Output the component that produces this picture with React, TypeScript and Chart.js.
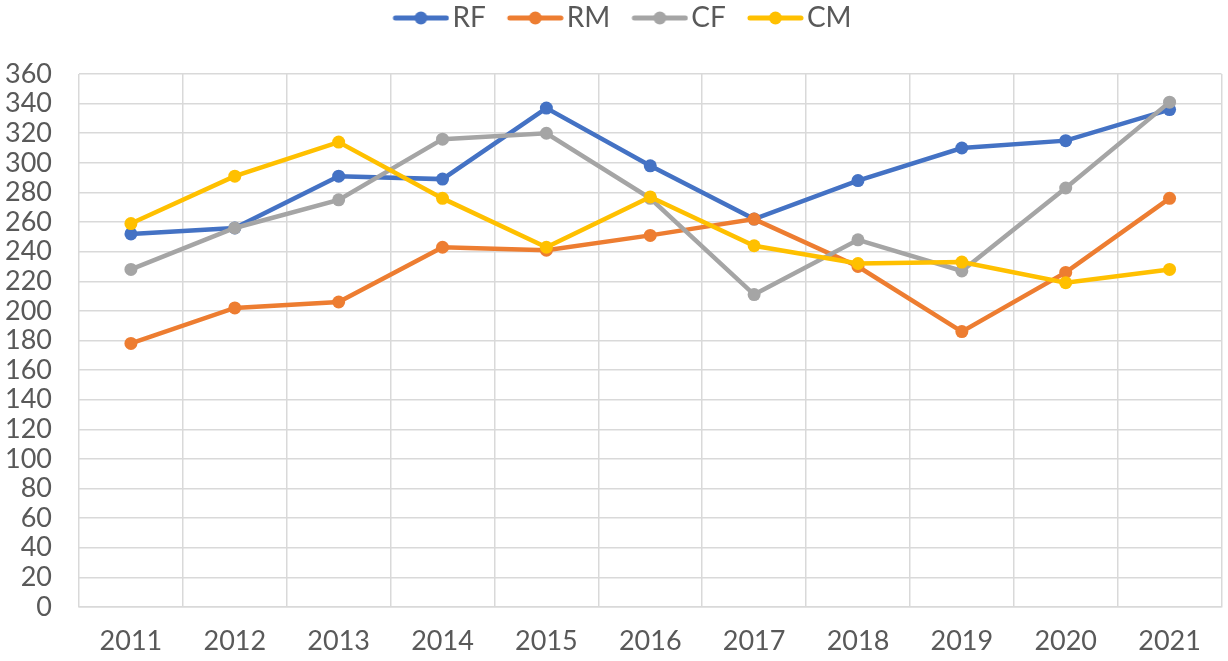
import React, { useEffect, useRef } from "react";
import { Chart, registerables } from "chart.js";

Chart.register(...registerables);

const years = ["2011", "2012", "2013", "2014", "2015", "2016", "2017", "2018", "2019", "2020", "2021"];
const rfValues = [252, 256, 291, 289, 337, 298, 262, 288, 310, 315, 336];
const rmValues = [178, 202, 206, 243, 241, 251, 262, 230, 186, 226, 276];
const cfValues = [228, 256, 275, 316, 320, 276, 211, 248, 227, 283, 341];
const cmValues = [259, 291, 314, 276, 243, 277, 244, 232, 233, 219, 228];
const seriesNames = ["RF", "RM", "CF", "CM"];
const seriesColors = ["#4472C4", "#ED7D31", "#A5A5A5", "#FFC000"];

const FONT = "Lato, 'DejaVu Sans', sans-serif";
const TICK_SIZE = 27;
const LEGEND_SIZE = 28;

// legend marker: transparent lead-in, then a 57px line with a dot
function legendMarker(color: string): HTMLCanvasElement {
  const c = document.createElement("canvas");
  c.width = 85;
  c.height = 16;
  const ctx = c.getContext("2d")!;
  ctx.strokeStyle = color;
  ctx.lineWidth = 5;
  ctx.lineCap = "round";
  ctx.beginPath();
  ctx.moveTo(31, 8);
  ctx.lineTo(82, 8);
  ctx.stroke();
  ctx.fillStyle = color;
  ctx.beginPath();
  ctx.arc(56.5, 8, 6.5, 0, Math.PI * 2);
  ctx.fill();
  return c;
}

const legendSpacer = {
  id: "legendSpacer",
  beforeInit(chart: any) {
    const legend = chart.legend;
    if (!legend) return;
    const origFit = legend.fit;
    legend.fit = function () {
      origFit.call(this);
      this.height = 74;
    };
  },
};

export default function App() {
  const ref = useRef<HTMLCanvasElement | null>(null);
  useEffect(() => {
    document.body.style.margin = "0";
    const values = [rfValues, rmValues, cfValues, cmValues];
    const chart = new Chart(ref.current!, {
      type: "line",
      data: {
        labels: years,
        datasets: seriesNames.map((name, i) => ({
          label: name,
          data: values[i],
          borderColor: seriesColors[i],
          backgroundColor: seriesColors[i],
          borderWidth: 4.5,
          pointRadius: 6.5,
          pointHoverRadius: 6.5,
          pointBorderWidth: 0,
          pointStyle: "circle",
          tension: 0,
          order: 4 - i,
        })),
      },
      plugins: [legendSpacer],
      options: {
        animation: false,
        responsive: false,
        maintainAspectRatio: false,
        layout: { padding: { left: 0, right: 1, top: 0, bottom: 0 } },
        plugins: {
          tooltip: { enabled: false },
          legend: {
            position: "top",
            labels: {
              usePointStyle: true,
              pointStyleWidth: 63,
              padding: 4,
              color: "#595959",
              font: { family: FONT, size: LEGEND_SIZE },
              generateLabels: () =>
                seriesNames.map((name, i) => ({
                  text: name,
                  fillStyle: seriesColors[i],
                  strokeStyle: seriesColors[i],
                  lineWidth: 0,
                  pointStyle: legendMarker(seriesColors[i]),
                  datasetIndex: i,
                  hidden: false,
                  fontColor: "#595959",
                })),
            },
          },
        },
        scales: {
          x: {
            offset: true,
            afterFit: (scale: any) => {
              scale.height = 54;
            },
            grid: { offset: true, color: "#d9d9d9", lineWidth: 1.5, drawTicks: false },
            border: { color: "#d9d9d9", width: 1.5 },
            ticks: { color: "#595959", font: { family: FONT, size: TICK_SIZE }, padding: 18, maxRotation: 0, autoSkip: false },
          },
          y: {
            min: 0,
            max: 360,
            afterFit: (scale: any) => {
              scale.width = 79;
            },
            grid: { color: "#d9d9d9", lineWidth: 1.5, drawTicks: false },
            border: { display: false },
            ticks: { stepSize: 20, autoSkip: false, color: "#595959", font: { family: FONT, size: TICK_SIZE }, padding: 27 },
          },
        },
      },
    });
    return () => chart.destroy();
  }, []);
  return (
    <div style={{ width: 1228, height: 661 }}>
      <canvas ref={ref} width={1228} height={661} style={{ width: 1228, height: 661, display: "block" }} />
    </div>
  );
}
